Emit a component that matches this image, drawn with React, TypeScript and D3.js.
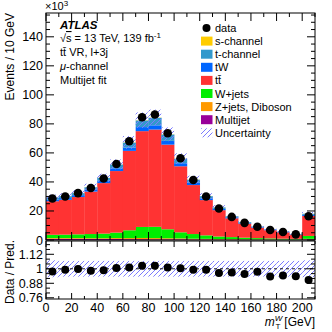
import React from "react";
import * as d3 from "d3";

const binEdges = [0, 10, 20, 30, 40, 50, 60, 70, 80, 90, 100, 110, 120, 130, 140, 150, 160, 170, 180, 190, 200, 210];
const dataVals = [28.6, 30.0, 32.3, 35.8, 42.4, 52.4, 68.0, 84.6, 86.5, 73.6, 56.3, 41.3, 30.0, 21.7, 15.9, 11.8, 9.1, 6.9, 5.5, 3.9, 16.4];
const multijet = [0.8, 0.8, 0.8, 0.7, 0.7, 0.7, 0.6, 0.6, 0.5, 0.5, 0.5, 0.4, 0.4, 0.3, 0.3, 0.3, 0.2, 0.2, 0.2, 0.2, 0.5];
const zjets = [0.5, 0.5, 0.5, 0.5, 0.5, 0.6, 0.7, 0.8, 0.8, 0.7, 0.6, 0.5, 0.4, 0.3, 0.3, 0.2, 0.2, 0.2, 0.1, 0.1, 0.3];
const wjets = [2.3, 2.4, 2.6, 2.9, 3.2, 3.8, 5.4, 7.6, 7.8, 6.2, 4.2, 3.2, 2.4, 1.8, 1.4, 1.1, 0.9, 0.7, 0.6, 0.5, 2.0];
const ttbar = [23.1, 24.0, 25.7, 29.25, 34.8, 42.4, 54.7, 66.0, 67.0, 58.3, 45.5, 33.75, 24.3, 18.15, 12.95, 9.7, 7.2, 5.65, 4.4, 2.95, 13.75];
const tW = [1.2, 1.2, 1.3, 1.4, 1.6, 1.9, 2.3, 2.8, 2.9, 2.6, 2.1, 1.6, 1.2, 0.9, 0.7, 0.5, 0.4, 0.3, 0.25, 0.2, 0.8];
const tchan = [1.3, 1.3, 1.4, 1.6, 2.0, 2.6, 3.4, 4.6, 5.2, 4.4, 3.1, 2.1, 1.5, 1.0, 0.7, 0.5, 0.4, 0.3, 0.25, 0.2, 0.7];
const schan = [0.05, 0.05, 0.06, 0.07, 0.08, 0.1, 0.12, 0.15, 0.15, 0.13, 0.1, 0.08, 0.06, 0.05, 0.04, 0.03, 0.02, 0.02, 0.02, 0.01, 0.04];
const relUnc = [0.07, 0.065, 0.065, 0.065, 0.065, 0.065, 0.065, 0.065, 0.065, 0.065, 0.065, 0.065, 0.065, 0.065, 0.065, 0.065, 0.065, 0.065, 0.065, 0.065, 0.07];

const seriesKeys = ["multijet", "zjets", "wjets", "ttbar", "tW", "tchan", "schan"];
const seriesColors: Record<string, string> = {
  multijet: "#990099",
  zjets: "#ff9900",
  wjets: "#00ee00",
  ttbar: "#ff3333",
  tW: "#0066ff",
  tchan: "#3399cc",
  schan: "#ffcc00",
};
const seriesArrays: Record<string, number[]> = { multijet, zjets, wjets, ttbar, tW, tchan, schan };

const xTicksMajor = [0, 20, 40, 60, 80, 100, 120, 140, 160, 180, 200];
const yTicksMain = [0, 20, 40, 60, 80, 100, 120, 140];
const yTicksRatio = [0.76, 0.88, 1, 1.12];
const yTickRatioLabels = ["0.76", "0.88", "1", "1.12"];

const W = 332, H = 332;
const L = 46, R = 315, mainTop = 13, mainBot = 240, ratioTop = 241, ratioBot = 299;
const FONT = "'Liberation Sans', Arial, Helvetica, sans-serif";
const HATCH = "#7b7bff";

export default function App() {
  const x = d3.scaleLinear().domain([0, 210]).range([L, R]);
  const y = d3.scaleLinear().domain([0, 156.4]).range([mainBot, mainTop]);
  const yr = d3.scaleLinear().domain([0.75, 1.23]).range([ratioBot, ratioTop]);

  const nb = dataVals.length;
  const rows = d3.range(nb).map((i) => {
    const o: Record<string, number> = { i };
    seriesKeys.forEach((k) => (o[k] = seriesArrays[k][i]));
    return o;
  });
  const stacked = d3.stack<Record<string, number>>().keys(seriesKeys)(rows);
  const totals = rows.map((r) => d3.sum(seriesKeys, (k) => r[k]));
  const ratio = dataVals.map((d, i) => d / totals[i]);

  const majorLen = 8, minorLen = 4;
  const ticks: JSX.Element[] = [];
  d3.range(0, 211, 5).forEach((v, idx) => {
    const major = v % 20 === 0;
    const len = major ? majorLen : v % 10 === 0 ? minorLen : 0;
    if (len === 0) return;
    const xx = x(v);
    ticks.push(<line key={"xm" + idx} x1={xx} x2={xx} y1={mainBot} y2={mainBot - len} stroke="#000" />);
    ticks.push(<line key={"xt" + idx} x1={xx} x2={xx} y1={mainTop} y2={mainTop + len} stroke="#000" />);
    ticks.push(<line key={"xr" + idx} x1={xx} x2={xx} y1={ratioBot} y2={ratioBot - (major ? 6 : 3)} stroke="#000" />);
    ticks.push(<line key={"xrt" + idx} x1={xx} x2={xx} y1={ratioTop} y2={ratioTop + (major ? 6 : 3)} stroke="#000" />);
  });
  d3.range(0, 156, 5).forEach((v, idx) => {
    const major = v % 20 === 0;
    const len = major ? majorLen : minorLen;
    const yy = y(v);
    ticks.push(<line key={"yl" + idx} x1={L} x2={L + len} y1={yy} y2={yy} stroke="#000" />);
    ticks.push(<line key={"yr" + idx} x1={R} x2={R - len} y1={yy} y2={yy} stroke="#000" />);
  });
  d3.range(0, 12).forEach((j) => {
    const v = 0.76 + j * 0.04;
    if (v > 1.23) return;
    const major = j % 3 === 0;
    const len = major ? majorLen : minorLen;
    const yy = yr(v);
    ticks.push(<line key={"ryl" + j} x1={L} x2={L + len} y1={yy} y2={yy} stroke="#000" />);
    ticks.push(<line key={"ryr" + j} x1={R} x2={R - len} y1={yy} y2={yy} stroke="#000" />);
  });

  const legendItems = [
    { label: "s-channel", key: "schan" },
    { label: "t-channel", key: "tchan" },
    { label: "tW", key: "tW" },
    { label: "tt̄", key: "ttbar" },
    { label: "W+jets", key: "wjets" },
    { label: "Z+jets, Diboson", key: "zjets" },
    { label: "Multijet", key: "multijet" },
  ];
  const legX = 201, legY0 = 28, legDy = 13.1;

  return (
    <svg width={W} height={H} style={{ position: "absolute", left: 0, top: 0, background: "#fff" }} fontFamily={FONT}>
      <defs>
        <pattern id="hatch" patternUnits="userSpaceOnUse" width="5" height="5">
          <line x1="-1" y1="6" x2="6" y2="-1" stroke={HATCH} strokeWidth="1" />
          <line x1="-1" y1="1" x2="1" y2="-1" stroke={HATCH} strokeWidth="1" />
          <line x1="4" y1="6" x2="6" y2="4" stroke={HATCH} strokeWidth="1" />
        </pattern>
        <clipPath id="mainClip">
          <rect x={L} y={mainTop} width={R - L} height={mainBot - mainTop} />
        </clipPath>
        <clipPath id="ratioClip">
          <rect x={L} y={ratioTop} width={R - L} height={ratioBot - ratioTop} />
        </clipPath>
      </defs>
      <rect width={W} height={H} fill="#fff" />

      <g clipPath="url(#mainClip)">
        {stacked.map((layer) =>
          layer.map((d, i) => (
            <rect
              key={layer.key + i}
              x={x(binEdges[i])}
              width={x(binEdges[i + 1]) - x(binEdges[i]) + 0.3}
              y={y(d[1])}
              height={Math.max(0, y(d[0]) - y(d[1]))}
              fill={seriesColors[layer.key]}
            />
          ))
        )}
        {totals.map((t, i) => (
          <rect
            key={"unc" + i}
            x={x(binEdges[i])}
            width={x(binEdges[i + 1]) - x(binEdges[i])}
            y={y(t * (1 + relUnc[i]))}
            height={y(t * (1 - relUnc[i])) - y(t * (1 + relUnc[i]))}
            fill="url(#hatch)"
          />
        ))}
        {dataVals.map((v, i) => (
          <circle key={"d" + i} cx={x((binEdges[i] + binEdges[i + 1]) / 2)} cy={y(v)} r={4.3} fill="#000" />
        ))}
      </g>

      <g clipPath="url(#ratioClip)">
        {relUnc.map((u, i) => (
          <rect
            key={"ru" + i}
            x={x(binEdges[i])}
            width={x(binEdges[i + 1]) - x(binEdges[i])}
            y={yr(1 + u)}
            height={yr(1 - u) - yr(1 + u)}
            fill="url(#hatch)"
          />
        ))}
        <line x1={L} x2={R} y1={yr(1)} y2={yr(1)} stroke="#000" strokeDasharray="3,3" strokeWidth={0.9} />
        {ratio.map((v, i) => (
          <circle key={"r" + i} cx={x((binEdges[i] + binEdges[i + 1]) / 2)} cy={yr(v)} r={4} fill="#000" />
        ))}
      </g>

      <rect x={L} y={mainTop} width={R - L} height={mainBot - mainTop} fill="none" stroke="#000" />
      <rect x={L} y={ratioTop} width={R - L} height={ratioBot - ratioTop} fill="none" stroke="#000" />
      {ticks}

      {yTicksMain.map((v) => (
        <text key={"yl" + v} x={L - 3} y={y(v) + 4.5} textAnchor="end" fontSize={12.5}>
          {v}
        </text>
      ))}
      <text x={L - 1} y={10} fontSize={11}>
        ×10<tspan dy={-4} fontSize={8}>3</tspan>
      </text>
      {yTicksRatio.map((v, i) => (
        <text key={"ry" + v} x={L - 3} y={yr(v) + 4.5} textAnchor="end" fontSize={12.5}>
          {yTickRatioLabels[i]}
        </text>
      ))}
      {xTicksMajor.map((v) => (
        <text key={"xl" + v} x={x(v)} y={312} textAnchor="middle" fontSize={12.5}>
          {v}
        </text>
      ))}

      <text transform={`translate(14,13) rotate(-90)`} textAnchor="end" fontSize={12}>
        Events / 10 GeV
      </text>
      <text transform={`translate(14,${(ratioTop + ratioBot) / 2 + 2}) rotate(-90)`} textAnchor="middle" fontSize={12}>
        Data / Pred.
      </text>
      <text x={R} y={326} textAnchor="end" fontSize={12}>
        <tspan fontStyle="italic">m</tspan>
        <tspan dy={-5} fontSize={8} fontStyle="italic">W</tspan>
        <tspan dy={8} dx={-7} fontSize={8}>T</tspan>
        <tspan dy={-3} dx={4}>[GeV]</tspan>
      </text>

      <text x={60} y={29} fontSize={11.5} fontWeight="bold" fontStyle="italic">ATLAS</text>
      <text x={60} y={42} fontSize={11}>
        √<tspan textDecoration="overline">s</tspan> = 13 TeV, 139 fb<tspan dy={-4} fontSize={8}>-1</tspan>
      </text>
      <text x={60} y={56} fontSize={11}>tt̄ VR, l+3j</text>
      <text x={60} y={70} fontSize={11}>
        <tspan fontStyle="italic">μ</tspan>-channel
      </text>
      <text x={60} y={84} fontSize={11}>Multijet fit</text>

      <circle cx={206.5} cy={legY0} r={4} fill="#000" />
      <text x={215} y={legY0 + 4} fontSize={11}>data</text>
      {legendItems.map((it, j) => {
        const cy = legY0 + (j + 1) * legDy;
        return (
          <g key={it.key}>
            <rect x={legX} y={cy - 4.5} width={11.5} height={9} fill={seriesColors[it.key]} />
            <text x={215} y={cy + 4} fontSize={11}>{it.label}</text>
          </g>
        );
      })}
      <rect x={legX} y={legY0 + 8 * legDy - 4.5} width={11.5} height={9} fill="url(#hatch)" />
      <text x={215} y={legY0 + 8 * legDy + 4} fontSize={11}>Uncertainty</text>
    </svg>
  );
}
